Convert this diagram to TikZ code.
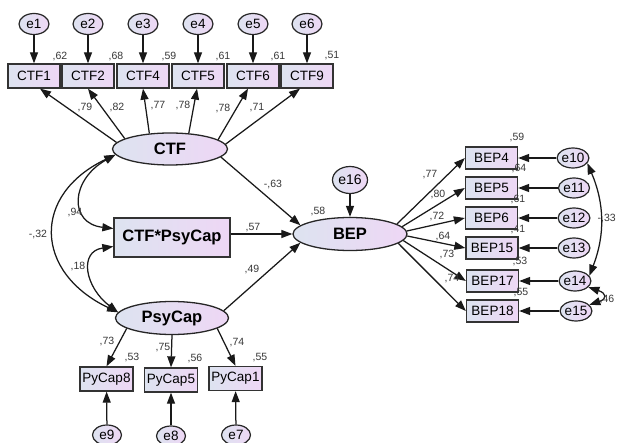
\documentclass[tikz,border=0pt]{standalone}
\usepackage{fontspec}
\setmainfont{Liberation Sans}
\usetikzlibrary{arrows.meta,shapes.geometric,calc}
\definecolor{lg}{RGB}{221,227,240}
\definecolor{rg}{RGB}{238,215,245}
\definecolor{lbl}{RGB}{55,55,55}
\begin{document}
\begin{tikzpicture}[x=1pt,y=1pt,
  >={Triangle[length=11pt,width=8pt]},
  obs/.style={draw=black!80, line width=1.3pt, left color=lg, right color=rg, rectangle, minimum width=52pt, minimum height=24pt, inner sep=0pt, font=\fontsize{13.5}{15}\selectfont},
  lat/.style={draw=black!85, line width=1.3pt, left color=lg, right color=rg, ellipse, inner sep=0pt, font=\fontsize{16.5}{18}\selectfont\bfseries},
  err/.style={draw=black!85, line width=1.2pt, left color=lg, right color=rg, ellipse, minimum width=30pt, minimum height=21pt, inner sep=0pt, font=\fontsize{13.5}{15}\selectfont},
  lab/.style={text=lbl, font=\fontsize{10.5}{12}\selectfont, inner sep=0pt},
  arr/.style={->, line width=1.25pt, draw=black!90},
  cov/.style={<->, line width=1.25pt, draw=black!90}
]
\useasboundingbox (0,0) rectangle (617,-443);

% top indicators
\foreach \i/\x in {1/34,2/88,3/143,4/198,5/253,6/307}
  \node[err] (e\i) at (\x,-24) {e\i};
\node[obs] (CTF1) at (34,-76) {CTF1};
\node[obs] (CTF2) at (88,-76) {CTF2};
\node[obs] (CTF4) at (143,-76) {CTF4};
\node[obs] (CTF5) at (198,-76) {CTF5};
\node[obs] (CTF6) at (253,-76) {CTF6};
\node[obs] (CTF9) at (307,-76) {CTF9};
\draw[arr] (e1) -- (CTF1);
\draw[arr] (e2) -- (CTF2);
\draw[arr] (e3) -- (CTF4);
\draw[arr] (e4) -- (CTF5);
\draw[arr] (e5) -- (CTF6);
\draw[arr] (e6) -- (CTF9);

% latent variables
\node[lat, minimum width=115pt, minimum height=32pt] (CTF) at (170,-149) {CTF};
\node[obs, minimum width=116pt, minimum height=39pt, font=\fontsize{16.5}{18}\selectfont\bfseries] (CP) at (172,-237.5) {CTF*PsyCap};
\node[lat, minimum width=113pt, minimum height=33pt] (PC) at (172,-318) {PsyCap};
\node[lat, minimum width=114pt, minimum height=33pt] (BEP) at (350,-234) {BEP};
\node[err, minimum width=35pt, minimum height=27pt, font=\fontsize{14}{16}\selectfont] (e16) at (350,-180) {e16};

% CTF loadings
\draw[arr] (CTF.173) -- ($(CTF1.south)+(6,0)$);
\draw[arr] (CTF.167) -- (CTF2.south);
\draw[arr] (CTF.143) -- (CTF4.south);
\draw[arr] (CTF.40) -- ($(CTF5.south)+(-1,0)$);
\draw[arr] (CTF.11) -- ($(CTF6.south)+(-5,0)$);
\draw[arr] (CTF.5) -- ($(CTF9.south)+(-7,0)$);

% structural paths
\draw[arr] (CTF.-9) -- (BEP.170);
\draw[arr] (CP.east |- BEP.west) -- (BEP.west);
\draw[arr] (PC.8) -- (BEP.190);
\draw[arr] (e16) -- (BEP);

% BEP indicators
\node[obs, minimum height=22pt] (B4) at (491.5,-158) {BEP4};
\node[obs, minimum height=22pt] (B5) at (491.5,-188) {BEP5};
\node[obs, minimum height=22pt] (B6) at (491.5,-218) {BEP6};
\node[obs, minimum height=22pt] (B15) at (492,-248) {BEP15};
\node[obs, minimum height=22pt] (B17) at (492.5,-281) {BEP17};
\node[obs, minimum height=22pt] (B18) at (492.5,-311) {BEP18};
\node[err, minimum width=31pt, minimum height=20pt] (e10) at (573,-158) {e10};
\node[err, minimum width=31pt, minimum height=20pt] (e11) at (574,-188) {e11};
\node[err, minimum width=31pt, minimum height=20pt] (e12) at (574,-218) {e12};
\node[err, minimum width=31pt, minimum height=20pt] (e13) at (574,-248) {e13};
\node[err, minimum width=31pt, minimum height=20pt] (e14) at (575,-281) {e14};
\node[err, minimum width=31pt, minimum height=20pt] (e15) at (576,-311) {e15};
\draw[arr] (BEP.12) -- (B4.west);
\draw[arr] (BEP.8) -- (B5.west);
\draw[arr] (BEP.3) -- (B6.west);
\draw[arr] (BEP.-2) -- (B15.west);
\draw[arr] (BEP.-7) -- (B17.west);
\draw[arr] (BEP.-11) -- (B18.west);
\draw[arr] (e10) -- (B4);
\draw[arr] (e11) -- (B5);
\draw[arr] (e12) -- (B6);
\draw[arr] (e13) -- (B15);
\draw[arr] (e14) -- (B17);
\draw[arr] (e15) -- (B18);
\draw[cov] (e10.-20) to[bend left=22] (e14.20);
\draw[cov] (e14.-25) .. controls +(18,-6) and +(18,6) .. (e15.25);

% PsyCap indicators
\node[obs, minimum width=53pt] (PY8) at (106.5,-379) {PyCap8};
\node[obs, minimum width=53pt] (PY5) at (171,-380) {PyCap5};
\node[obs, minimum width=53pt] (PY1) at (235.5,-378.5) {PyCap1};
\node[err, minimum width=29pt, minimum height=20pt] (e9) at (107,-435) {e9};
\node[err, minimum width=29pt, minimum height=20pt] (e8) at (171,-436) {e8};
\node[err, minimum width=29pt, minimum height=20pt] (e7) at (236,-435) {e7};
\draw[arr] (PC.-167) -- (PY8.north);
\draw[arr] (PC.south) -- (PY5.north);
\draw[arr] (PC.-13) -- (PY1.north);
\draw[arr] (e9) -- (PY8);
\draw[arr] (e8) -- (PY5);
\draw[arr] (e7) -- (PY1);

% covariances on the left
\draw[cov] (CTF.186) .. controls +(-84,-40) and +(-84,40) .. (PC.174);
\draw[cov] (CTF.186) .. controls +(-45,-25) and +(-45,5) .. ($(CP.west)+(0,9)$);
\draw[cov] ($(CP.west)+(0,-9)$) .. controls +(-35,-5) and +(-33,25) .. (PC.174);

% labels
\node[lab] (r1) at (60,-57) {,62};
\node[lab] (r2) at (116,-57) {,68};
\node[lab] (r3) at (169,-57) {,59};
\node[lab] (r4) at (223,-57) {,61};
\node[lab] (r5) at (278,-57) {,61};
\node[lab] (r6) at (332,-56) {,51};
\node[lab] (l1) at (85,-108) {,79};
\node[lab] (l2) at (117,-108) {,82};
\node[lab] (l3) at (158,-106) {,77};
\node[lab] (l4) at (183,-106) {,78};
\node[lab] (l5) at (223,-109) {,78};
\node[lab] (l6) at (257,-108) {,71};
\node[lab] (p1) at (273,-185) {-,63};
\node[lab] (p2) at (253,-228) {,57};
\node[lab] (p3) at (252,-270) {,49};
\node[lab] (p4) at (318,-212) {,58};
\node[lab] (c1) at (75,-213) {,94};
\node[lab] (c2) at (38,-235) {-,32};
\node[lab] (c3) at (78,-267) {,18};
\node[lab] (b1) at (430,-175) {,77};
\node[lab] (b2) at (438,-195) {,80};
\node[lab] (b3) at (437,-217) {,72};
\node[lab] (b4) at (443,-237) {,64};
\node[lab] (b5) at (447,-255) {,73};
\node[lab] (b6) at (452,-279) {,74};
\node[lab] (s1) at (517,-138) {,59};
\node[lab] (s2) at (519,-169) {,64};
\node[lab] (s3) at (518,-200) {,61};
\node[lab] (s4) at (518,-230) {,41};
\node[lab] (s5) at (520,-262) {,53};
\node[lab] (s6) at (521,-293) {,55};
\node[lab, anchor=east] (c4) at (616,-219) {-,33};
\node[lab] (c5) at (607,-300) {,46};
\node[lab] (q1) at (107,-342) {,73};
\node[lab] (q2) at (163,-348) {,75};
\node[lab] (q3) at (237,-343) {,74};
\node[lab] (q4) at (132,-358) {,53};
\node[lab] (q5) at (195,-359) {,56};
\node[lab] (q6) at (260,-358) {,55};
\end{tikzpicture}
\end{document}
